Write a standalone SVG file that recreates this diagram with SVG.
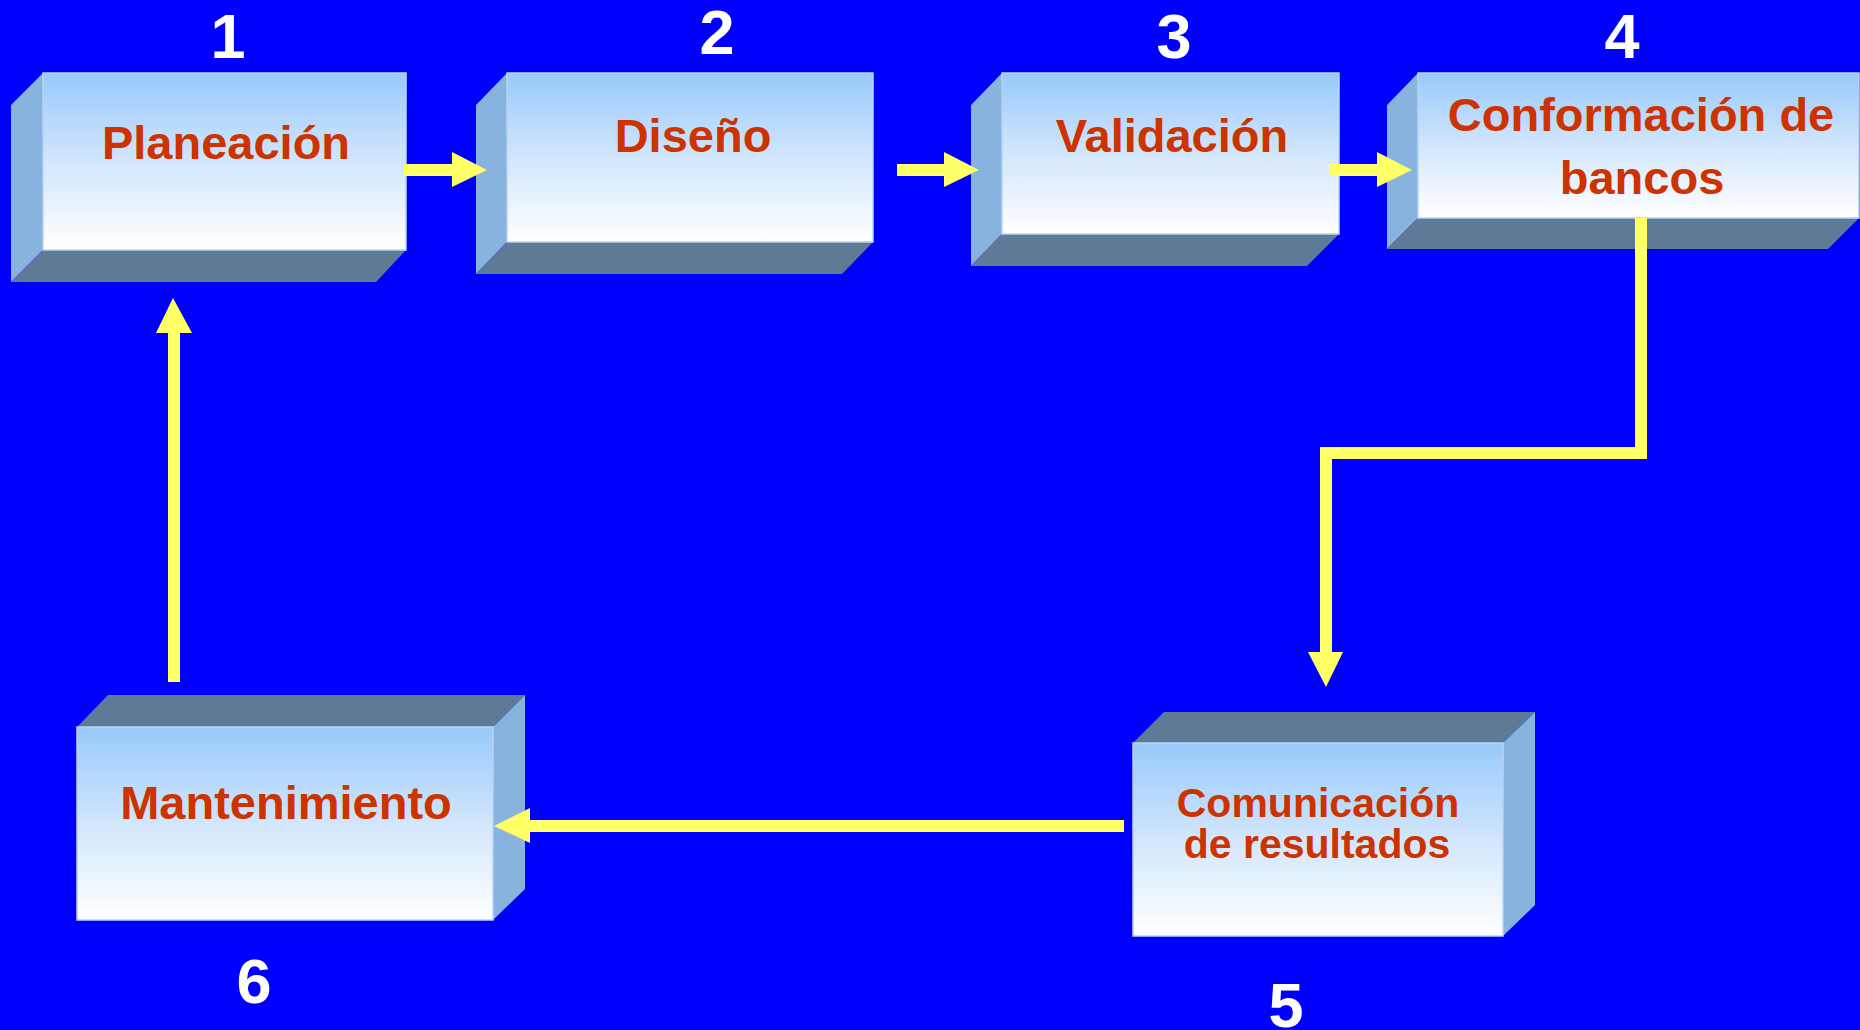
<svg xmlns="http://www.w3.org/2000/svg" width="1860" height="1030" viewBox="0 0 1860 1030">
<defs>
<linearGradient id="front" x1="0" y1="0" x2="0" y2="1">
<stop offset="0" stop-color="#97C9FB"/>
<stop offset="0.5" stop-color="#D2E6FC"/>
<stop offset="1" stop-color="#FFFFFF"/>
</linearGradient>
<style>
.front{fill:url(#front);stroke:#B8D4F4;stroke-width:1.5}
.side{fill:#87B3DE}
.dark{fill:#5E7A97}
.lbl{font-family:"Liberation Sans",Arial,sans-serif;font-weight:bold;fill:#CC3300;text-anchor:middle}
.num{font-family:"Liberation Sans",Arial,sans-serif;font-weight:bold;fill:#FFFFFF;text-anchor:middle;font-size:63px}
.line{fill:none;stroke:#FFFF66;stroke-width:12}
.head{fill:#FFFF66}
</style>
</defs>
<rect width="1860" height="1030" fill="#0000FF"/>

<g id="node1">
<polygon class="side" points="11,105 43,73 43,250 11,282"/>
<polygon class="dark" points="43,250 406,250 376,282 11,282"/>
<rect class="front" x="43" y="73" width="363" height="177"/>
<text class="lbl" x="226" y="159" font-size="47">Planeación</text>
<text class="num" x="228" y="58">1</text>
</g>

<g id="node2">
<polygon class="side" points="476,105 507,73 507,242 476,274"/>
<polygon class="dark" points="507,242 873,242 842,274 476,274"/>
<rect class="front" x="507" y="73" width="366" height="169"/>
<text class="lbl" x="693" y="152" font-size="47">Diseño</text>
<text class="num" x="717" y="54">2</text>
</g>

<g id="node3">
<polygon class="side" points="971,105 1002,73 1002,234 971,266"/>
<polygon class="dark" points="1002,234 1339,234 1307,266 971,266"/>
<rect class="front" x="1002" y="73" width="337" height="161"/>
<text class="lbl" x="1172" y="152" font-size="47">Validación</text>
<text class="num" x="1174" y="58">3</text>
</g>

<g id="node4">
<polygon class="side" points="1387,105 1418,73 1418,218 1387,249"/>
<polygon class="dark" points="1418,218 1859,218 1828,249 1387,249"/>
<rect class="front" x="1418" y="73" width="441" height="145"/>
<text class="lbl" x="1641" y="131" font-size="47">Conformación de</text>
<text class="lbl" x="1642" y="194" font-size="47">bancos</text>
<text class="num" x="1622" y="58">4</text>
</g>

<g id="node5">
<polygon class="dark" points="1133,743 1164,712 1535,712 1503,743"/>
<polygon class="side" points="1503,743 1535,712 1535,905 1503,936"/>
<rect class="front" x="1133" y="743" width="370" height="193"/>
<text class="lbl" x="1318" y="817" font-size="41">Comunicación</text>
<text class="lbl" x="1317" y="858" font-size="41">de resultados</text>
<text class="num" x="1286" y="1027" font-size="64">5</text>
</g>

<g id="node6">
<polygon class="dark" points="77,727 108,695 525,695 493,727"/>
<polygon class="side" points="493,727 525,695 525,889 493,920"/>
<rect class="front" x="77" y="727" width="416" height="193"/>
<text class="lbl" x="286" y="819" font-size="47">Mantenimiento</text>
<text class="num" x="254" y="1003" font-size="64">6</text>
</g>

<g id="connectors">
<line class="line" x1="404" y1="170" x2="453" y2="170"/>
<polygon class="head" points="452,152 487,170 452,187"/>
<line class="line" x1="897" y1="170" x2="945" y2="170"/>
<polygon class="head" points="944,152 979,170 944,187"/>
<line class="line" x1="1329" y1="170" x2="1378" y2="170"/>
<polygon class="head" points="1377,152 1412,170 1377,187"/>
<polyline class="line" points="1641,218 1641,453 1326,453 1326,653"/>
<polygon class="head" points="1308,652 1343,652 1326,687"/>
<line class="line" x1="1124" y1="826" x2="529" y2="826"/>
<polygon class="head" points="530,808 494,826 530,843"/>
<line class="line" x1="174" y1="682" x2="174" y2="332"/>
<polygon class="head" points="156,333 173,298 192,333"/>
</g>
</svg>
